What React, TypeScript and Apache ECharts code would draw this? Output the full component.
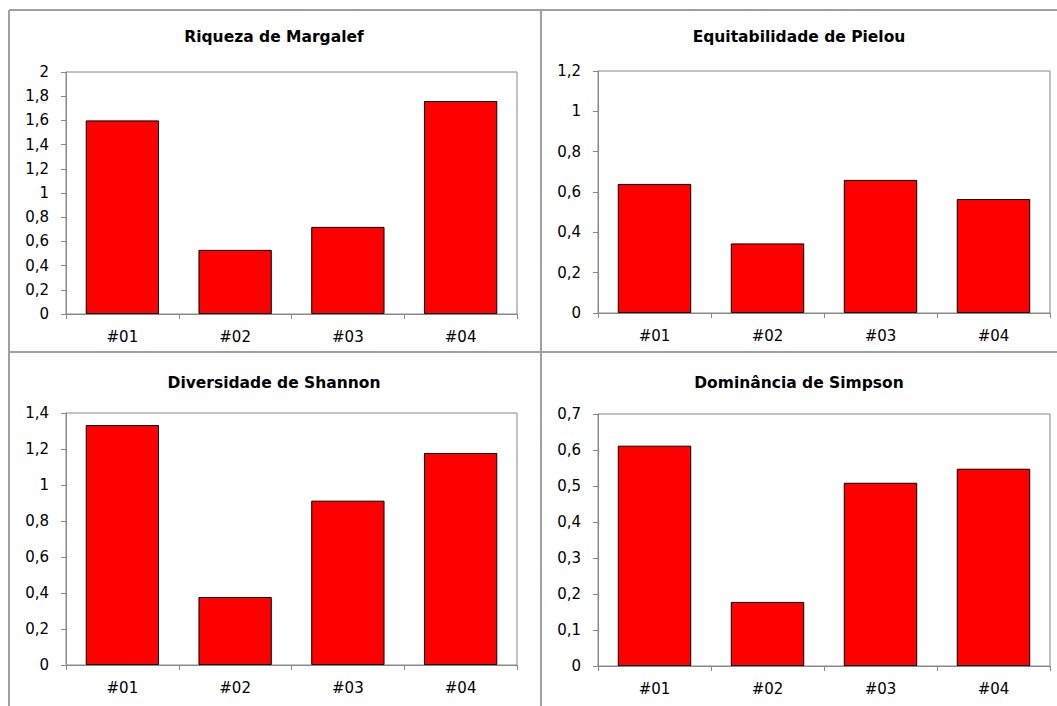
import React, { useEffect, useRef } from "react";
import * as echarts from "echarts";

const categories = ["#01", "#02", "#03", "#04"];
const margalef = [1.6, 0.53, 0.72, 1.76];
const pielou = [0.64, 0.345, 0.66, 0.565];
const shannon = [1.333, 0.378, 0.913, 1.178];
const simpson = [0.612, 0.178, 0.509, 0.548];
const titles = ["Riqueza de Margalef", "Equitabilidade de Pielou", "Diversidade de Shannon", "Dominância de Simpson"];
const yMax = [2, 1.2, 1.4, 0.7];
const yInterval = [0.2, 0.2, 0.2, 0.1];

const FONT = "DejaVu Sans";

export default function App() {
  const ref = useRef<HTMLDivElement>(null);
  useEffect(() => {
    document.body.style.margin = "0";
    const chart = echarts.init(ref.current!, null, { renderer: "svg" });
    const grids = [
      { left: 66, top: 72, width: 451, height: 242 },
      { left: 598, top: 71, width: 452, height: 242 },
      { left: 66, top: 413, width: 451, height: 252 },
      { left: 598, top: 414, width: 452, height: 252 },
    ];
    const titleCenters = [
      { x: 274, y: 37 },
      { x: 799, y: 37 },
      { x: 274, y: 383 },
      { x: 799, y: 383 },
    ];
    const data = [margalef, pielou, shannon, simpson];
    const gray = "#888888";
    const option: any = {
      animation: false,
      backgroundColor: "#ffffff",
      title: titles.map((t, i) => ({
        text: t,
        left: titleCenters[i].x,
        top: titleCenters[i].y,
        textAlign: "center",
        textVerticalAlign: "middle",
        padding: 0,
        textStyle: { fontFamily: FONT, fontSize: 15.5, fontWeight: "bold", color: "#000" },
      })),
      grid: grids.map((g) => ({
        ...g,
        show: true,
        borderColor: gray,
        borderWidth: 1,
        backgroundColor: "transparent",
        containLabel: false,
      })),
      xAxis: grids.map((_, i) => ({
        type: "category",
        gridIndex: i,
        data: categories,
        axisLine: { show: true, lineStyle: { color: gray, width: 1 } },
        axisTick: { show: true, length: 5, alignWithLabel: false, lineStyle: { color: gray } },
        axisLabel: { fontFamily: FONT, fontSize: 15, color: "#000", margin: 15 },
        splitLine: { show: false },
      })),
      yAxis: grids.map((_, i) => ({
        type: "value",
        gridIndex: i,
        min: 0,
        max: yMax[i],
        interval: yInterval[i],
        axisLine: { show: true, lineStyle: { color: gray, width: 1 } },
        axisTick: { show: true, length: 5, lineStyle: { color: gray } },
        axisLabel: {
          fontFamily: FONT,
          fontSize: 15,
          color: "#000",
          margin: 17,
          formatter: (v: number) => String(Math.round(v * 10) / 10).replace(".", ","),
        },
        splitLine: { show: false },
      })),
      series: data.map((d, i) => ({
        type: "bar",
        xAxisIndex: i,
        yAxisIndex: i,
        data: d,
        barWidth: "65%",
        itemStyle: { color: "#ff0000", borderColor: "#000", borderWidth: 1 },
      })),
      graphic: [
        { type: "line", shape: { x1: 9, y1: 10, x2: 1057, y2: 10 }, style: { stroke: "#a0a0a0", lineWidth: 2 } },
        { type: "line", shape: { x1: 9, y1: 352, x2: 1057, y2: 352 }, style: { stroke: "#a0a0a0", lineWidth: 2 } },
        { type: "line", shape: { x1: 9, y1: 10, x2: 9, y2: 706 }, style: { stroke: "#a0a0a0", lineWidth: 2 } },
        { type: "line", shape: { x1: 541, y1: 10, x2: 541, y2: 706 }, style: { stroke: "#a0a0a0", lineWidth: 2 } },
      ],
    };
    chart.setOption(option);
    return () => chart.dispose();
  }, []);
  return <div ref={ref} style={{ width: 1057, height: 706 }} />;
}
